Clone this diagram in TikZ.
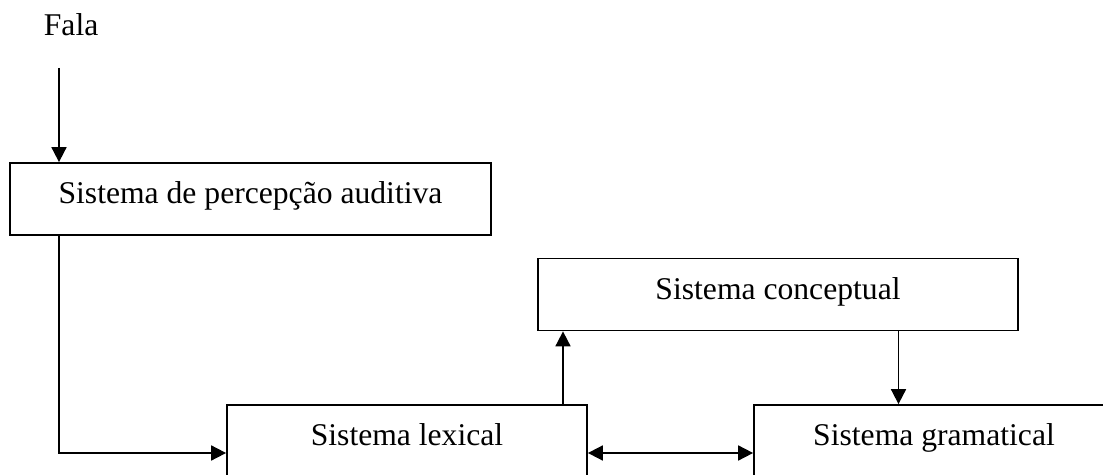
\documentclass[tikz,border=0pt]{standalone}
\usepackage{fontspec}
\setmainfont{Liberation Serif}
\usetikzlibrary{arrows.meta,calc}

\begin{document}
\begin{tikzpicture}[
	font=\fontsize{18}{21.6}\selectfont,
	line width=1pt,
	>={Triangle[length=8.5pt,width=8.5pt]},
	sistema/.style={draw, rectangle, inner sep=0pt, text height=0.4cm, text depth=0.2cm, minimum height=1.44cm}
	]
	\useasboundingbox (0,0) rectangle (22.06,9.5);
	\clip (0,0) rectangle (22.06,9.5);
	\node[anchor=base west, inner sep=0pt] (fala) at (0.86,8.78) {Fala};
	\coordinate (falain) at (1.18,8.14);
	\node[sistema, minimum width=9.62cm] (auditiva) at (5.01,5.52) {Sistema de percepção auditiva};
	\node[sistema, minimum width=9.6cm] (conceptual) at (15.56,3.61) {Sistema conceptual};
	\node[sistema, minimum width=7.2cm] (lexical) at (8.14,0.68) {Sistema lexical};
	\node[sistema, minimum width=7.2cm] (gramatical) at (18.68,0.68) {Sistema gramatical};
	\draw[->] (falain) -- (falain |- auditiva.north);
	\draw[->] (falain |- auditiva.south) |- ([yshift=-0.24cm]lexical.west);
	\draw[->] ([xshift=3.12cm]lexical.north) -- ([xshift=3.12cm]lexical.north |- conceptual.south);
	\draw[->] ([xshift=-0.71cm]gramatical.north |- conceptual.south) -- ([xshift=-0.71cm]gramatical.north);
	\draw[<->] ([yshift=-0.24cm]lexical.east) -- ([yshift=-0.24cm]gramatical.west);
\end{tikzpicture}
\end{document}
